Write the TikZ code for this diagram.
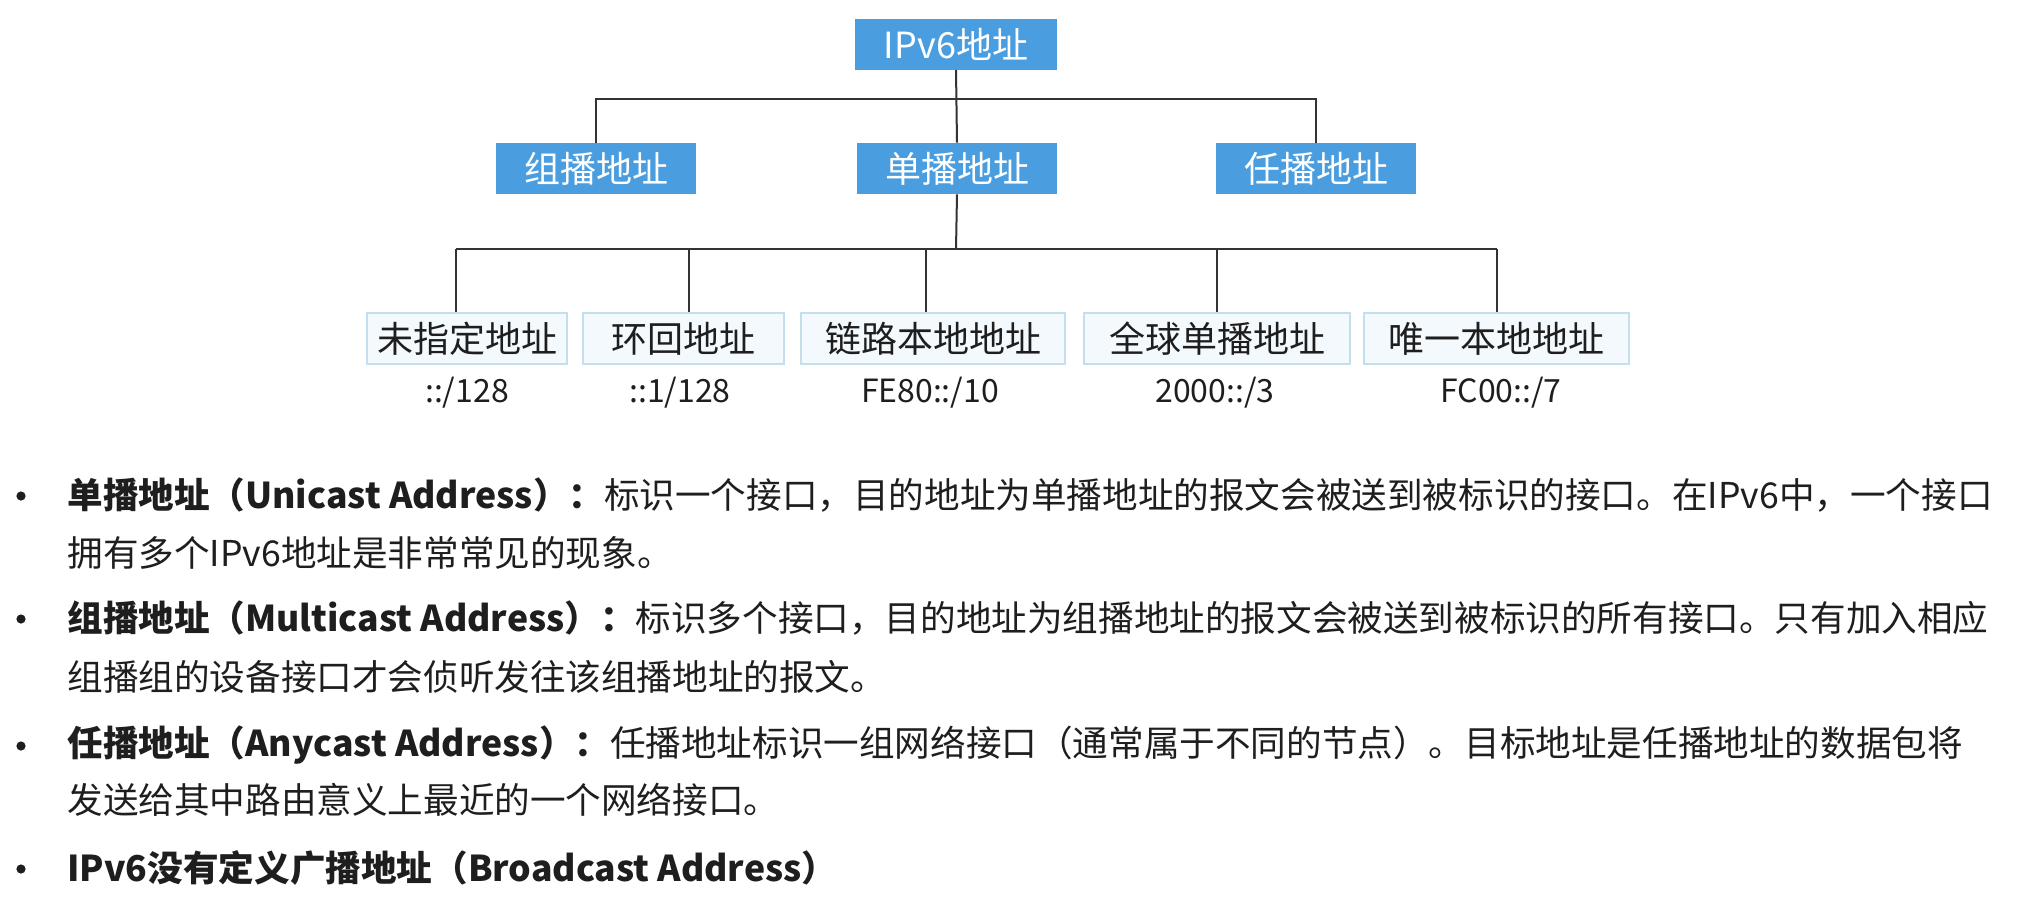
\documentclass[tikz,border=0pt]{standalone}
\usepackage{fontspec}
\setmainfont{Noto Sans CJK SC}
\definecolor{boxBlue}{HTML}{4A9EE0}
\definecolor{paleFill}{HTML}{F3F9FD}
\definecolor{paleEdge}{HTML}{C3DFEE}
\definecolor{lineGray}{HTML}{333333}
\definecolor{textBlack}{HTML}{1E1E1E}

\begin{document}
\begin{tikzpicture}[x=0.5pt,y=-0.5pt]

    \tikzstyle{commonNode}=[inner sep=0pt, align=center, font=\fontsize{18}{20}\selectfont]
    \tikzstyle{typeBox}=[commonNode, rectangle, fill=boxBlue, text=white, minimum height=25.5pt]
    \tikzstyle{subBox}=[commonNode, rectangle, fill=paleFill, draw=paleEdge, line width=0.8pt, text=textBlack, minimum height=25.5pt]
    \tikzstyle{prefixText}=[commonNode, font=\fontsize{16}{18}\selectfont, text=textBlack]
    \tikzstyle{bulletDot}=[circle, fill=textBlack, inner sep=0pt, minimum size=4.6pt]
    \tikzstyle{bulletLine}=[commonNode, anchor=west, font=\fontsize{17.8}{20}\selectfont, text=textBlack]
    \tikzstyle{link}=[draw=lineGray, line width=1pt]

    \useasboundingbox (0,0) rectangle (2020,912);

    % Root and address types
    \node at (956, 44)    [typeBox, minimum width=101pt]   (ADDR)   {IPv6地址};
    \node at (596, 168.5) [typeBox, minimum width=100pt]   (MC)     {组播地址};
    \node at (957, 168.5) [typeBox, minimum width=100pt]   (UC)     {单播地址};
    \node at (1316, 168.5) [typeBox, minimum width=100pt]  (AC)     {任播地址};

    % Unicast kinds
    \node at (467, 338.5)    [subBox, minimum width=100pt]   (UNSPEC) {未指定地址};
    \node at (683.5, 338.5)  [subBox, minimum width=100.5pt] (LOOP)   {环回地址};
    \node at (933, 338.5)    [subBox, minimum width=132pt]   (LINK)   {链路本地地址};
    \node at (1217, 338.5)   [subBox, minimum width=133pt]   (GLOBAL) {全球单播地址};
    \node at (1496.5, 338.5) [subBox, minimum width=132.5pt] (ULA)    {唯一本地地址};

    % Prefixes
    \node at (467, 393)  [prefixText] (UNSPECp) {::/128};
    \node at (680, 393)  [prefixText] (LOOPp)   {::1/128};
    \node at (930, 393)  [prefixText] (LINKp)   {FE80::/10};
    \node at (1215, 393) [prefixText] (GLOBALp) {2000::/3};
    \node at (1501, 393) [prefixText] (ULAp)    {FC00::/7};

    % Connectors
    \coordinate (topBus) at (956, 99);
    \coordinate (lowBus) at (956, 249);
    \draw [link] (ADDR.south) -- (UC.north);
    \draw [link] (MC.north) |- (topBus) -| (AC.north);
    \draw [link] (UC.south) -- (lowBus);
    \foreach \n/\dx in {UNSPEC/-5.5, LOOP/2.75, LINK/-3.5, GLOBAL/0, ULA/0}
        \draw [link] ([xshift=\dx pt]\n.north) -- ([xshift=\dx pt]\n.north |- lowBus);
    \draw [link] ([xshift=-5.5pt]UNSPEC.north |- lowBus) -- (ULA.north |- lowBus);

    % Bullets
    \foreach \y/\name in {496/dotA, 619/dotB, 746/dotC, 869/dotD}
        \node at (21, \y) [bulletDot] (\name) {};

    \node at (67, 495) [bulletLine] (lineA1) {\textbf{单播地址（Unicast Address）：}标识一个接口，目的地址为单播地址的报文会被送到被标识的接口。在IPv6中，一个接口};
    \node at (67, 553) [bulletLine] (lineA2) {拥有多个IPv6地址是非常常见的现象。};
    \node at (67, 618) [bulletLine] (lineB1) {\textbf{组播地址（Multicast Address）：}标识多个接口，目的地址为组播地址的报文会被送到被标识的所有接口。只有加入相应};
    \node at (67, 677) [bulletLine] (lineB2) {组播组的设备接口才会侦听发往该组播地址的报文。};
    \node at (67, 745) [bulletLine] (lineC1) {\textbf{任播地址（Anycast Address）：}任播地址标识一组网络接口（通常属于不同的节点）。目标地址是任播地址的数据包将};
    \node at (67, 800) [bulletLine] (lineC2) {发送给其中路由意义上最近的一个网络接口。};
    \node at (67, 868) [bulletLine] (lineD1) {\textbf{IPv6没有定义广播地址（Broadcast Address）}};

\end{tikzpicture}
\end{document}
